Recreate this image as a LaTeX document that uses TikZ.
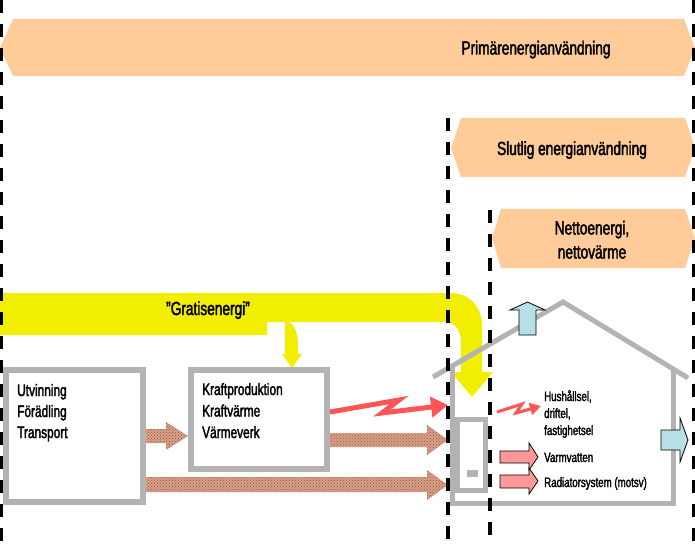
\documentclass[tikz,border=0pt]{standalone}
\usepackage{fontspec}
\setmainfont{Liberation Sans}[FakeStretch=0.72,FakeBold=2]
\usetikzlibrary{arrows.meta,patterns}
\definecolor{bannerc}{RGB}{255,204,153}
\definecolor{yel}{RGB}{242,238,0}
\definecolor{boxgray}{RGB}{179,179,179}
\definecolor{redc}{RGB}{255,85,85}
\definecolor{pinkc}{RGB}{255,153,153}
\definecolor{bluec}{RGB}{183,224,230}
\definecolor{brownbase}{RGB}{214,160,136}
\definecolor{browndark}{RGB}{160,82,52}
\newcommand\fsBig{\fontsize{19}{22}\selectfont}
\newcommand\fsMid{\fontsize{16.5}{20}\selectfont}
\newcommand\fsSmall{\fontsize{13.5}{17}\selectfont}
\begin{document}
\begin{tikzpicture}[x=1pt,y=-1pt,
  bannerfill/.style={fill=bannerc},
  txt/.style={inner sep=0pt,font=\fsBig},
  midtxt/.style={inner sep=0pt,font=\fsMid,anchor=base west},
  smalltxt/.style={inner sep=0pt,font=\fsSmall,anchor=base west},
  box/.style={draw=boxgray,line width=6pt,fill=white,inner sep=0pt},
  brownarrow/.style={preaction={fill=brownbase},pattern=crosshatch dots,pattern color=browndark},
  bolt/.style={draw=redc,line join=miter,line width=5pt,-{Triangle[length=17pt,width=20pt]}},
  smallbolt/.style={draw=redc,line join=miter,line width=3pt,-{Triangle[length=11pt,width=12pt]}},
  blockarrow/.style={draw=black,line width=0.8pt,line join=miter},
  house/.style={draw=boxgray,line width=5pt},
  dashline/.style={draw=black,line width=3.5pt,dash pattern=on 13pt off 11pt}
]
\useasboundingbox (0,0) rectangle (695,545);

% banners
\fill[bannerfill] (0,48) -- (13,19) -- (684,19) -- (695,48) -- (684,76) -- (13,76) -- cycle;
\node[txt,anchor=base] (prim) at (536,54.5) {Primärenergianvändning};
\fill[bannerfill] (451,148) -- (461,118) -- (685,118) -- (695,148) -- (685,177) -- (461,177) -- cycle;
\node[txt,anchor=base] (slut) at (572,155) {Slutlig energianvändning};
\fill[bannerfill] (492,238) -- (501,209) -- (685,209) -- (695,238) -- (685,268) -- (501,268) -- cycle;
\node[txt,anchor=base] (netto1) at (592,234.5) {Nettoenergi,};
\node[txt,anchor=base] (netto2) at (592,258.5) {nettovärme};

% yellow free energy arrow
\fill[yel] (0,293) -- (450,293) .. controls (469,293) and (482,306) .. (482,326)
  -- (482,372) -- (493,372) -- (472,397) -- (451,372) -- (461,372) -- (461,343)
  .. controls (461,330) and (455,322) .. (444,322) -- (289,322)
  .. controls (295,325) and (298,335) .. (298,345) -- (298,354) -- (302,354)
  -- (292,368) -- (282,354) -- (285,354) -- (285,322) -- (267,322) -- (267,335)
  -- (0,335) -- cycle;
\node[txt,anchor=base] (gratis) at (208,315) {”Gratisenergi”};

% boxes
\node[box,minimum width=137pt,minimum height=132pt] (b1) at (74.5,436) {};
\node[midtxt] (t11) at (17,396) {Utvinning};
\node[midtxt] (t12) at (17,417) {Förädling};
\node[midtxt] (t13) at (17,438) {Transport};
\node[box,minimum width=136pt,minimum height=99pt] (b2) at (259,419.5) {};
\node[midtxt] (t21) at (202,395) {Kraftproduktion};
\node[midtxt] (t22) at (202,416.5) {Kraftvärme};
\node[midtxt] (t23) at (202,438) {Värmeverk};

% brown arrows
\path[brownarrow] (146,429) -- (166,429) -- (166,422) -- (188,436) -- (166,450) -- (166,443) -- (146,443) -- cycle;
\path[brownarrow] (330,433) -- (427,433) -- (427,425) -- (448,440) -- (427,455) -- (427,447) -- (330,447) -- cycle;
\path[brownarrow] (146,477) -- (427,477) -- (427,470) -- (448,485) -- (427,500) -- (427,492) -- (146,492) -- cycle;

% red lightning arrows
\coordinate (boltend) at (448,405);
\draw[bolt] (330,412) -- (399,400) -- (382,413) -- (boltend);
\coordinate (sboltend) at (541,406);
\draw[smallbolt] (497,412) -- (522,404) -- (516,413) -- (sboltend);

% house
\draw[house] (433,377) -- (563,302) -- (688,378);
\draw[house] (452,366) -- (452,503) -- (673,503) -- (673,369);
\draw[draw=boxgray,line width=5pt,fill=white] (457.5,419.5) rectangle (485.5,490.5);
\fill[boxgray] (467,470) rectangle (478,477);

% blue arrows
\filldraw[blockarrow,fill=bluec] (519,335) -- (519,310) -- (510,310) -- (527.5,302) -- (545,310) -- (536,310) -- (536,335) -- cycle;
\filldraw[blockarrow,fill=bluec] (661,430) -- (680,430) -- (680,418) -- (688,440) -- (680,462) -- (680,450) -- (661,450) -- cycle;

% pink arrows
\filldraw[blockarrow,fill=pinkc] (500,451) -- (529,451) -- (529,443) -- (538,457) -- (529,470) -- (529,463) -- (500,463) -- cycle;
\filldraw[blockarrow,fill=pinkc] (500,475) -- (529,475) -- (529,468) -- (538,481) -- (529,494) -- (529,488) -- (500,488) -- cycle;

% house texts
\node[smalltxt] (h1) at (544,401) {Hushållsel,};
\node[smalltxt] (h2) at (544,418) {driftel,};
\node[smalltxt] (h3) at (544,435) {fastighetsel};
\node[smalltxt] (vv) at (544,462) {Varmvatten};
\node[smalltxt] (rad) at (544,487) {Radiatorsystem (motsv)};

% dashed boundaries
\draw[dashline,line width=3pt] (1.5,0) -- (1.5,545);
\draw[dashline,line width=3pt] (693.5,0) -- (693.5,545);
\draw[dashline] (448,118) -- (448,545);
\draw[dashline] (490,210) -- (490,545);
\end{tikzpicture}
\end{document}
